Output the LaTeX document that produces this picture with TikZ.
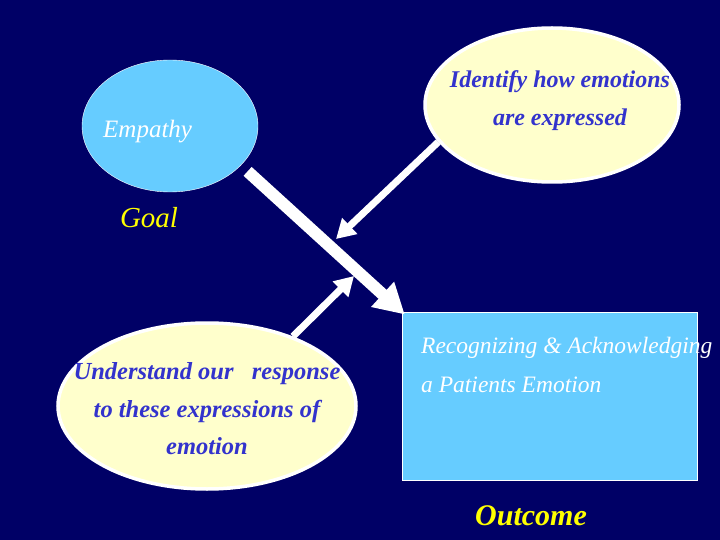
\documentclass[tikz,border=0pt]{standalone}
\usepackage{fontspec}
\setmainfont{Liberation Serif}
\usetikzlibrary{shapes.geometric,arrows.meta}
\definecolor{navy}{HTML}{000066}
\definecolor{sky}{HTML}{66CCFF}
\definecolor{cream}{HTML}{FFFFCC}
\definecolor{ink}{HTML}{3333CC}
\definecolor{gold}{HTML}{FFFF00}

\begin{document}
\begin{tikzpicture}[x=1pt,y=-1pt,
  bubble/.style={ellipse,draw=white,fill=cream,line width=3.5pt,inner sep=0pt},
  txt/.style={font=\fontsize{25}{39}\selectfont\itshape,inner sep=0pt},
  bluetxt/.style={txt,ink,align=center,font=\fontsize{24}{38}\selectfont\bfseries\itshape},
  bigarrow/.style={white,line width=12pt,-{Triangle[length=30pt,width=32pt]}},
  thinarrow/.style={white,line width=7pt,-{Triangle[length=19pt,width=21pt]}}]
  \fill[navy] (0,0) rectangle (720,540);
  \useasboundingbox (0,0) rectangle (720,540);
  \node[ellipse,draw=white,fill=sky,thin,minimum width=176,minimum height=132,inner sep=0pt] (empathy) at (170,126) {};
  \node[bubble,minimum width=254,minimum height=154] (identify) at (552,105) {};
  \node[bubble,minimum width=298,minimum height=166] (understand) at (207,406) {};
  \node[draw=white,fill=sky,thin,minimum width=295,minimum height=168,inner sep=0pt] (recognize) at (549.5,396) {};
  % labels
  \node[txt,white,anchor=base west] (empathytxt) at (103,138) {Empathy};
  \node[bluetxt] (identifytxt) at (560,101) {Identify how emotions\\are expressed};
  \node[bluetxt,font=\fontsize{24.5}{37.5}\selectfont\bfseries\itshape] (understandtxt) at (207,409) {Understand our\ \ \ response\\to these expressions of\\emotion};
  \node[txt,white,align=left,anchor=north west,font=\fontsize{23.5}{39}\selectfont\itshape] (recognizetxt) at (421,337) {Recognizing \& Acknowledging\\a Patients Emotion};
  \node[txt,gold,anchor=base,font=\fontsize{29}{35}\selectfont\itshape] (goal) at (149,228) {Goal};
  \node[txt,gold,anchor=base,font=\fontsize{30}{36}\selectfont\bfseries\itshape] (outcome) at (531,525) {Outcome};
  % arrows
  \coordinate (tipA) at (336,239);
  \coordinate (tipB) at (354,276);
  \draw[bigarrow,shorten <=9pt,shorten >=-4pt] (empathy.-29) -- (recognize.north west);
  \draw[thinarrow] (identify.198) -- (tipA);
  \draw[thinarrow] (understand.39) -- (tipB);
\end{tikzpicture}
\end{document}
